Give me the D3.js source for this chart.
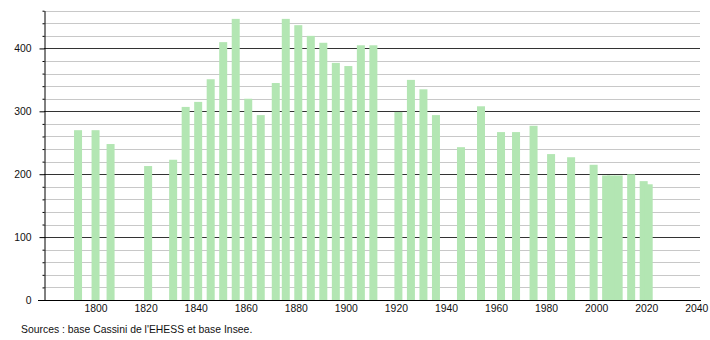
<!DOCTYPE html>
<html>
<head>
<meta charset="utf-8">
<script src="https://cdn.jsdelivr.net/npm/d3@7"></script>
<style>
  body { margin: 0; background: #fff; }
  text { font-family: "Liberation Sans", Arial, sans-serif; font-size: 10.4px; fill: #111; }
</style>
</head>
<body>
<div id="chart"></div>
<script>
// population by census year
var years = [1793, 1800, 1806, 1821, 1831, 1836, 1841, 1846, 1851, 1856, 1861, 1866,
  1872, 1876, 1881, 1886, 1891, 1896, 1901, 1906, 1911, 1921, 1926, 1931, 1936,
  1946, 1954, 1962, 1968, 1975, 1982, 1990, 1999, 2004, 2006, 2009, 2014, 2019, 2021];
var population = [270, 270, 248, 213, 223, 307, 315, 351, 410, 447, 320, 294,
  345, 447, 437, 420, 409, 377, 372, 405, 405, 299, 350, 335, 294,
  243, 308, 267, 267, 277, 232, 227, 215, 198, 198, 198, 200, 189, 184];

var xTicks = [1800, 1820, 1840, 1860, 1880, 1900, 1920, 1940, 1960, 1980, 2000, 2020, 2040];
var yMajor = [0, 100, 200, 300, 400];
var yMinor = [20, 40, 60, 80, 120, 140, 160, 180, 220, 240, 260, 280,
  320, 340, 360, 380, 420, 440, 460];

var svgWidth = 710;
var svgHeight = 340;

var svg = d3.select("#chart")
  .append("svg")
  .attr("width", svgWidth)
  .attr("height", svgHeight);

var x = d3.scaleLinear()
  .domain([1779.4, 2041.5])
  .range([44, 700]);

var y = d3.scaleLinear()
  .domain([0, 460])
  .range([300, 10.7]);

// grid lines, light ones every 20, dark ones every 100
svg.append("g").selectAll("line")
  .data(yMinor)
  .enter()
  .append("line")
  .attr("x1", 44)
  .attr("x2", 700)
  .attr("y1", d => Math.round(y(d)) + 0.5)
  .attr("y2", d => Math.round(y(d)) + 0.5)
  .attr("stroke", "#c8c8c8");

svg.append("g").selectAll("line")
  .data(yMajor.slice(1))
  .enter()
  .append("line")
  .attr("x1", 44)
  .attr("x2", 700)
  .attr("y1", d => Math.round(y(d)) + 0.5)
  .attr("y2", d => Math.round(y(d)) + 0.5)
  .attr("stroke", "#333");

// bars
svg.append("g").selectAll("rect")
  .data(years)
  .enter()
  .append("rect")
  .attr("x", d => x(d) - 4)
  .attr("width", 8)
  .attr("y", (d, i) => y(population[i]))
  .attr("height", (d, i) => y(0) - y(population[i]))
  .attr("fill", "#b3e6b3");

// y axis
var leftAxis = d3.axisLeft(y)
  .tickValues(yMajor)
  .tickSize(5)
  .tickSizeOuter(0)
  .tickPadding(8);

var minorAxis = d3.axisLeft(y)
  .tickValues(yMinor)
  .tickSize(2)
  .tickSizeOuter(0)
  .tickFormat("");

var gy = svg.append("g")
  .attr("transform", "translate(44.5, 0)")
  .call(leftAxis);
gy.attr("font-family", null).attr("font-size", null);

svg.append("g")
  .attr("transform", "translate(44.5, 0)")
  .call(minorAxis)
  .select(".domain").remove();

// x axis
var bottomAxis = d3.axisBottom(x)
  .tickValues(xTicks)
  .tickSize(0)
  .tickPadding(4)
  .tickFormat(d3.format("d"));

var gx = svg.append("g")
  .attr("transform", "translate(0, 300.5)")
  .call(bottomAxis);
gx.attr("font-family", null).attr("font-size", null);
gx.select(".domain").remove();

svg.append("line")
  .attr("x1", 38)
  .attr("x2", 701)
  .attr("y1", 300.5)
  .attr("y2", 300.5)
  .attr("stroke", "#000");

svg.selectAll(".domain").attr("stroke", "#000");
svg.selectAll(".tick line").attr("stroke", "#000");

// source note
svg.append("text")
  .attr("x", 21)
  .attr("y", 333)
  .text("Sources : base Cassini de l'EHESS et base Insee.");
</script>
</body>
</html>
